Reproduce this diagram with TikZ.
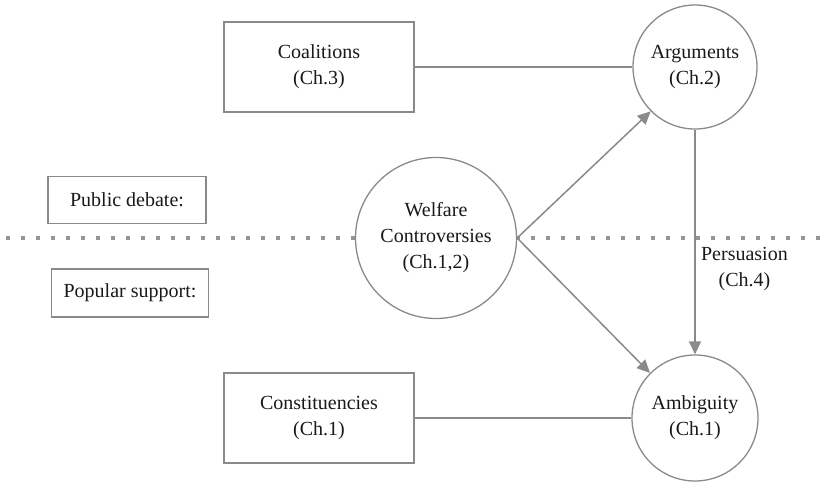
\documentclass[tikz,border=0pt]{standalone}
\usepackage{fontspec}
\setmainfont{Liberation Serif}
\usetikzlibrary{arrows.meta}
\definecolor{edge}{RGB}{138,138,138}
\definecolor{ink}{RGB}{25,25,25}
\tikzset{
  every node/.style={text=ink, font=\fontsize{20}{26}\selectfont, align=center},
  box/.style={draw=edge, line width=1.3pt, fill=white, minimum width=190pt, minimum height=90pt},
  tag/.style={draw=edge, line width=1.3pt, fill=white, inner sep=0pt},
  topic/.style={circle, draw=edge, line width=1.3pt, fill=white, inner sep=0pt},
  link/.style={draw=edge, line width=1.5pt},
  flow/.style={link, -{Triangle[length=13pt,width=12pt]}},
}
\begin{document}
\begin{tikzpicture}[x=1pt,y=-1pt]
  \useasboundingbox (0,0) rectangle (827,482);
  % level divider
  \draw[edge!90, line width=3.5pt, dash pattern=on 3.5pt off 11.5pt] (6,238) -- (827,238);

  \node[box] (coal) at (319,67) {Coalitions\\(Ch.3)};
  \node[box] (cons) at (319,418) {Constituencies\\(Ch.1)};
  \node[tag, minimum width=158pt, minimum height=47pt] (pub) at (127,200) {Public debate:};
  \node[tag, minimum width=157pt, minimum height=48pt] (pop) at (130,293) {Popular support:};

  \node[topic, minimum size=124pt] (arg) at (695,67) {Arguments\\(Ch.2)};
  \node[topic, minimum size=161pt] (wel) at (436,238) {Welfare\\Controversies\\(Ch.1,2)};
  \node[topic, minimum size=126pt] (amb) at (695,418) {Ambiguity\\(Ch.1)};

  \draw[link] (coal) -- (arg);
  \draw[link] (cons) -- (amb);
  \draw[flow] (wel.east) -- (arg.225);
  \draw[flow] (wel.east) -- (amb.135);
  \draw[flow] (arg) -- node[right=2pt, pos=0.62] (pers) {Persuasion\\(Ch.4)} (amb);
\end{tikzpicture}
\end{document}
